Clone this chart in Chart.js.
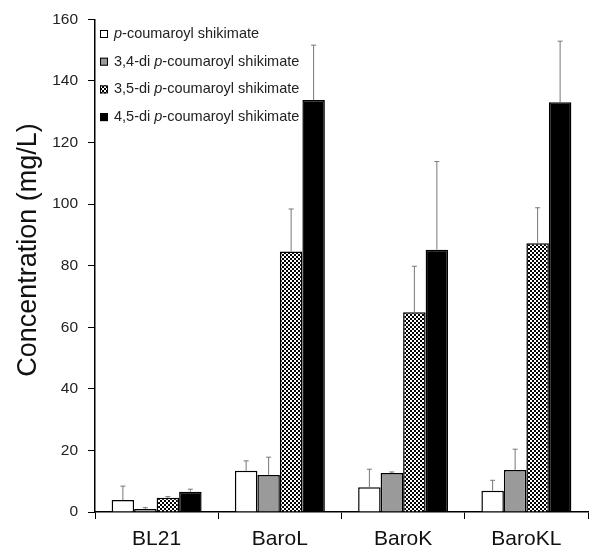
<!DOCTYPE html>
<html>
<head>
<meta charset="utf-8">
<script src="https://cdn.jsdelivr.net/npm/chart.js@4"></script>
<style>
  html, body { margin: 0; padding: 0; background: #fff; }
  #wrap { width: 600px; height: 555px; }
</style>
</head>
<body>
<div id="wrap"><canvas id="Chart" width="600" height="555"></canvas></div>
<script>
const categories = ["BL21", "BaroL", "BaroK", "BaroKL"];
const seriesNames = ["p-coumaroyl shikimate", "3,4-di p-coumaroyl shikimate", "3,5-di p-coumaroyl shikimate", "4,5-di p-coumaroyl shikimate"];

const pCS   = [3.9, 13.4, 8.0, 6.9];
const di34  = [1.0, 12.0, 12.7, 13.6];
const di35  = [4.6, 84.6, 64.9, 87.3];
const di45  = [6.6, 133.8, 85.2, 133.1];

const pCSErr  = [4.5, 3.2, 5.9, 3.4];
const di34Err = [0.4, 5.8, 0.3, 6.8];
const di35Err = [0.4, 13.8, 14.9, 11.5];
const di45Err = [0.8, 17.8, 28.6, 19.8];

const yTicks = [0, 20, 40, 60, 80, 100, 120, 140, 160];
const yTitle = "Concentration (mg/L)";

// checkerboard fill for the 3,5-di bars
function checker() {
    const c = document.createElement("canvas");
    c.width = 4; c.height = 4;
    const g = c.getContext("2d");
    g.fillStyle = "#fff";
    g.fillRect(0, 0, 4, 4);
    g.fillStyle = "#000";
    g.fillRect(0, 0, 2, 2);
    g.fillRect(2, 2, 2, 2);
    return g.createPattern(c, "repeat");
}
const checkerFill = checker();
const fills = ["#ffffff", "#9a9a9a", checkerFill, "#000000"];
const values = [pCS, di34, di35, di45];
const errors = [pCSErr, di34Err, di35Err, di45Err];

const data = {
    labels: categories,
    datasets: seriesNames.map((name, i) => ({
        label: name,
        data: values[i],
        errors: errors[i],
        backgroundColor: fills[i],
        borderColor: "#000",
        borderWidth: 1.5,
        barPercentage: 1,
        categoryPercentage: 0.73,
    })),
};

const errorBars = {
    id: "errorBars",
    afterDatasetsDraw(chart) {
        const ctx = chart.ctx;
        const y = chart.scales.y;
        ctx.save();
        ctx.strokeStyle = "#777";
        ctx.lineWidth = 1;
        chart.data.datasets.forEach((ds, i) => {
            const meta = chart.getDatasetMeta(i);
            meta.data.forEach((bar, j) => {
                const top = y.getPixelForValue(ds.data[j] + ds.errors[j]);
                ctx.beginPath();
                ctx.moveTo(bar.x, bar.y);
                ctx.lineTo(bar.x, top);
                ctx.moveTo(bar.x - 2.5, top);
                ctx.lineTo(bar.x + 2.5, top);
                ctx.stroke();
            });
        });
        ctx.restore();
    }
};

// legend inside the plot, with the italic "p", plus the y title placed a bit above centre
const innerLegend = {
    id: "innerLegend",
    afterDraw(chart) {
        const ctx = chart.ctx;
        const x0 = 100, y0 = 34, step = 27.7;
        ctx.save();
        ctx.textBaseline = "middle";
        chart.data.datasets.forEach((ds, i) => {
            const yy = y0 + i * step;
            ctx.fillStyle = ds.backgroundColor;
            ctx.fillRect(x0, yy - 4, 8, 8);
            ctx.strokeStyle = "#000";
            ctx.lineWidth = 1;
            ctx.strokeRect(x0 + 0.5, yy - 3.5, 7, 7);
            const k = ds.label.indexOf("p-c");
            const parts = [[ds.label.slice(0, k), "normal"], ["p", "italic"], [ds.label.slice(k + 1), "normal"]];
            let tx = x0 + 14;
            ctx.fillStyle = "#222";
            parts.forEach(([t, st]) => {
                ctx.font = st + " 14.5px 'Liberation Sans', Arial, sans-serif";
                ctx.fillText(t, tx, yy);
                tx += ctx.measureText(t).width;
            });
        });

        ctx.translate(29, 250);
        ctx.rotate(-Math.PI / 2);
        ctx.textAlign = "center";
        ctx.fillStyle = "#111";
        ctx.font = "27px 'Liberation Sans', Arial, sans-serif";
        ctx.fillText(yTitle, 0, 0);
        ctx.restore();
    }
};

const config = {
    type: "bar",
    data: data,
    plugins: [errorBars, innerLegend],
    options: {
        responsive: false,
        animation: false,
        layout: { padding: { left: 0, top: 18, right: 12, bottom: 0 } },
        plugins: {
            legend: { display: false },
            tooltip: { enabled: false },
        },
        scales: {
            x: {
                grid: { offset: true, drawOnChartArea: false, tickLength: 7, color: "#000", lineWidth: 1 },
                border: { color: "#000", width: 1.5 },
                ticks: { color: "#111", padding: 8, font: { family: "'Liberation Sans', Arial", size: 21 } },
                afterFit(scale) { scale.height = 43; },
            },
            y: {
                min: 0,
                max: 160,
                afterBuildTicks(scale) { scale.ticks = yTicks.map(v => ({ value: v })); },
                grid: { drawOnChartArea: false, tickLength: 7, color: "#000", lineWidth: 1 },
                border: { color: "#000", width: 1.5 },
                ticks: { color: "#222", padding: 10, font: { family: "'Liberation Sans', Arial", size: 15.5 } },
                afterFit(scale) { scale.width = 95; },
            },
        },
    },
};

const myChart = new Chart(document.getElementById("Chart"), config);
</script>
</body>
</html>
